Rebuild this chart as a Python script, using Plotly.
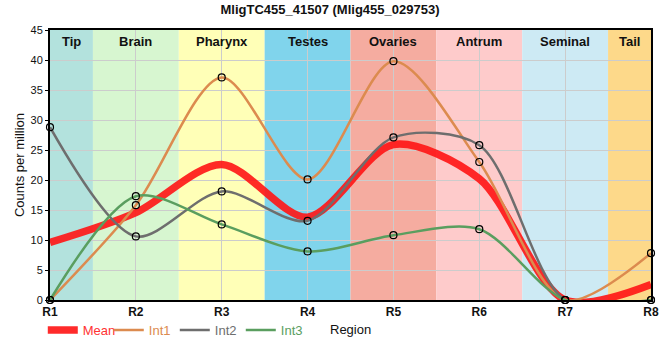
import plotly.graph_objects as go
import numpy as np

regions = ["R1", "R2", "R3", "R4", "R5", "R6", "R7", "R8"]
int1 = [0.0, 15.8, 37.1, 20.1, 39.8, 23.0, 0.0, 7.8]
int2 = [28.8, 10.6, 18.1, 13.2, 27.1, 25.8, 0.0, 0.0]
int3 = [0.0, 17.3, 12.6, 8.1, 10.8, 11.8, 0.0, 0.0]
mean = list(np.mean([int1, int2, int3], axis=0))

band_names = ["Tip", "Brain", "Pharynx", "Testes", "Ovaries", "Antrum", "Seminal", "Tail"]
band_edges = [1, 1.5, 2.5, 3.5, 4.5, 5.5, 6.5, 7.5, 8]
band_colors = ["#b3e2dd", "#d7f6d0", "#ffffb7", "#80d4ec", "#f5aca0", "#fecbcb", "#cdeaf4", "#fdd98a"]

xs = list(range(1, 9))
fig = go.Figure()

shapes = []
annotations = []
for i, name in enumerate(band_names):
    shapes.append(dict(type="rect", xref="x", yref="paper", x0=band_edges[i], x1=band_edges[i + 1],
                       y0=0, y1=1, fillcolor=band_colors[i], line=dict(width=0), layer="below"))
    annotations.append(dict(x=(band_edges[i] + band_edges[i + 1]) / 2, y=1, xref="x", yref="paper",
                            yanchor="top", yshift=-2, text="<b>" + name + "</b>", showarrow=False,
                            font=dict(size=13, color="#111111", family="Liberation Sans, Arial")))

annotations.append(dict(x=0.5, y=-0.111, xref="paper", yref="paper", yanchor="middle", xanchor="center",
                        text="Region", showarrow=False, font=dict(size=13, color="#111111")))

SM = 0.85
fig.add_trace(go.Scatter(x=xs, y=mean, mode="lines", line=dict(color="rgba(255,20,20,0.9)", width=7.5, shape="spline", smoothing=SM),
                         name="<span style='color:#ff3333'>Mean</span>"))
series = [(int1, "#dc8b4f", "Int1"), (int2, "#6e6e6e", "Int2"), (int3, "#5a9e5f", "Int3")]
for ys, col, nm in series:
    fig.add_trace(go.Scatter(x=xs, y=ys, mode="lines", line=dict(color=col, width=2.5, shape="spline", smoothing=SM),
                             name="<span style='color:%s'>%s</span>" % (col, nm)))
for ys, col, nm in series:
    fig.add_trace(go.Scatter(x=xs, y=ys, mode="markers", showlegend=False,
                             marker=dict(symbol="circle-open", size=7, color="#000000", line=dict(width=1.2)),
                             cliponaxis=False))

fig.update_layout(
    width=660, height=360,
    margin=dict(l=50, r=9, t=30, b=60, autoexpand=False),
    paper_bgcolor="white", plot_bgcolor="white",
    title=dict(text="<b>MligTC455_41507 (Mlig455_029753)</b>", x=0.5, xanchor="center",
               yref="container", y=0.975, yanchor="middle",
               font=dict(size=13, color="#111111", family="Liberation Sans, Arial")),
    font=dict(family="Liberation Sans, Arial", size=12, color="#111111"),
    shapes=shapes, annotations=annotations,
    showlegend=True,
    legend=dict(orientation="h", x=-0.012, y=-0.111, xanchor="left", yanchor="middle",
                font=dict(size=13), bgcolor="rgba(0,0,0,0)", itemwidth=30, tracegroupgap=0,
                entrywidth=21, entrywidthmode="pixels"),
    xaxis=dict(range=[1, 8], tickvals=xs, ticktext=["<b>" + r + "</b>" for r in regions],
               showgrid=True, gridcolor="#cccccc", gridwidth=1, zeroline=False, automargin=False,
               showline=True, linecolor="black", linewidth=2, mirror=True,
               ticks="", tickfont=dict(size=12, color="#111111")),
    yaxis=dict(range=[0, 45], dtick=5, showgrid=True, gridcolor="#cccccc", gridwidth=1, zeroline=False,
               automargin=False,
               showline=True, linecolor="black", linewidth=2, mirror=True,
               ticks="outside", ticklen=3, tickcolor="black", tickfont=dict(size=11, color="#111111"),
               title=dict(text="Counts per million", font=dict(size=13), standoff=3)),
)

fig.write_html("out.html", config={"displayModeBar": False},
               post_script="document.body.style.margin='0';document.body.style.padding='0';")
